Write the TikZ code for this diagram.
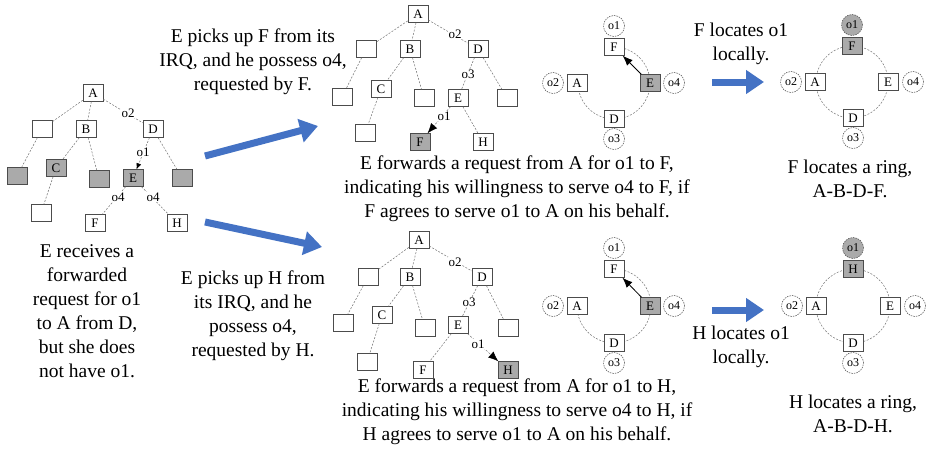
\documentclass[tikz,border=0pt]{standalone}
\usepackage{fontspec}
\setmainfont{Liberation Serif}
\usetikzlibrary{arrows.meta}
\definecolor{arrowblue}{RGB}{68,114,196}
\definecolor{boxgray}{RGB}{170,170,170}
\begin{document}
\begin{tikzpicture}[x=1pt,y=-1pt,
  bx/.style={draw=black!70, line width=0.5pt, fill=white, minimum width=20pt, minimum height=17pt, inner sep=0pt, font=\fontsize{13}{13}\selectfont},
  gbx/.style={bx, fill=boxgray},
  oc/.style={circle, draw=black!70, dash pattern=on 1.5pt off 1pt, line width=0.5pt, fill=white, minimum size=21pt, inner sep=0pt, font=\fontsize{12}{12}\selectfont},
  goc/.style={oc, fill=boxgray},
  tedge/.style={draw=black!55, line width=0.5pt, dash pattern=on 2pt off 1.5pt},
  tlab/.style={font=\fontsize{13}{13}\selectfont, inner sep=0.6pt, fill=white},
  txt/.style={align=center, font=\fontsize{19.5}{24}\selectfont, inner sep=0pt},
  bigarrow/.style={draw=arrowblue, line width=7pt, -{Triangle[length=18pt,width=23pt]}},
  ringarc/.style={draw=black!55, line width=0.5pt, dash pattern=on 2pt off 1.5pt},
  ringarrow/.style={draw=black, line width=0.8pt, -{Latex[length=10pt,width=8pt]}},
  smallhead/.style={-{Latex[length=6pt,width=5pt,color=black]}},
  bighead/.style={-{Latex[length=10pt,width=8pt,color=black]}},
]
\fill[white] (0,0) rectangle (931,455);
\useasboundingbox (0,0) rectangle (931,455);

% ---------------- texts ----------------
\node[txt] (t1) at (253,62) {E picks up F from its\\IRQ, and he possess o4,\\requested by F.};
\node[txt] (t2) at (741,44) {F locates o1\\locally.};
\node[txt] (t3) at (517,188.5) {E forwards a request from A for o1 to F,\\indicating his willingness to serve o4 to F, if\\F agrees to serve o1 to A on his behalf.};
\node[txt] (t4) at (850,179) {F locates a ring,\\A-B-D-F.};
\node[txt] (t5) at (87,311) {E receives a\\forwarded\\request for o1\\to A from D,\\but she does\\not have o1.};
\node[txt] (t6) at (253,316) {E picks up H from\\its IRQ, and he\\possess o4,\\requested by H.};
\node[txt] (t7) at (741,346.5) {H locates o1\\locally.};
\node[txt] (t8) at (517,411.5) {E forwards a request from A for o1 to H,\\indicating his willingness to serve o4 to H, if\\H agrees to serve o1 to A on his behalf.};
\node[txt] (t9) at (853,414) {H locates a ring,\\A-B-D-H.};

% ---------------- blue arrows ----------------
\coordinate (ba1s) at (205,156);
\coordinate (ba1e) at (318,126);
\coordinate (ba2s) at (205,222);
\coordinate (ba2e) at (322,247);
\coordinate (ba3s) at (712,82);
\coordinate (ba3e) at (764,82);
\coordinate (ba4s) at (712,310);
\coordinate (ba4e) at (764,310);
\draw[bigarrow] (ba1s) -- (ba1e);
\draw[bigarrow] (ba2s) -- (ba2e);
\draw[bigarrow] (ba3s) -- (ba3e);
\draw[bigarrow] (ba4s) -- (ba4e);

% ---------------- left tree ----------------
\node[bx]  (lA)  at (93,93)   {A};
\node[bx]  (lL)  at (42,129)  {};
\node[bx]  (lB)  at (86,129)  {B};
\node[bx]  (lD)  at (153,129) {D};
\node[gbx] (lLL) at (17,176)  {};
\node[gbx] (lC)  at (56,168)  {C};
\node[gbx] (lBm) at (99,179)  {};
\node[gbx] (lE)  at (133,178) {E};
\node[gbx] (lDr) at (182,178) {};
\node[bx]  (lCb) at (41,213)  {};
\node[bx]  (lF)  at (95,223)  {F};
\node[bx]  (lH)  at (177,223) {H};
\draw[tedge] (lA) -- (lL);
\draw[tedge] (lA) -- (lB);
\draw[tedge] (lA) -- (lD);
\draw[tedge] (lL) -- (lLL);
\draw[tedge] (lB) -- (lC);
\draw[tedge] (lB) -- (lBm);
\draw[tedge] (lD) -- (lDr);
\draw[tedge] (lC) -- (lCb);
\draw[tedge] (lE) -- (lF);
\draw[tedge] (lE) -- (lH);
\draw[tedge, smallhead] (lD) -- (lE);
\node[tlab] (lo2)  at (128,113) {o2};
\node[tlab] (lo1)  at (143,152) {o1};
\node[tlab] (lo4a) at (118,197) {o4};
\node[tlab] (lo4b) at (153,197) {o4};

% ---------------- top middle tree ----------------
\node[bx]  (tA)  at (418,14)  {A};
\node[bx]  (tL)  at (366,49)  {};
\node[bx]  (tB)  at (410,49)  {B};
\node[bx]  (tD)  at (478,49)  {D};
\node[bx]  (tLL) at (342,97)  {};
\node[bx]  (tC)  at (381,89)  {C};
\node[bx]  (tBm) at (424,98)  {};
\node[bx]  (tE)  at (458,98)  {E};
\node[bx]  (tDr) at (507,98)  {};
\node[bx]  (tCb) at (365,133) {};
\node[gbx] (tF)  at (420,142) {F};
\node[bx]  (tH)  at (483,142) {H};
\draw[tedge] (tA) -- (tL);
\draw[tedge] (tA) -- (tB);
\draw[tedge] (tA) -- (tD);
\draw[tedge] (tL) -- (tLL);
\draw[tedge] (tB) -- (tC);
\draw[tedge] (tB) -- (tBm);
\draw[tedge] (tD) -- (tE);
\draw[tedge] (tD) -- (tDr);
\draw[tedge] (tC) -- (tCb);
\draw[tedge] (tE) -- (tH);
\draw[tedge, bighead] (tE) -- (tF);
\node[tlab] (to2) at (455,34)  {o2};
\node[tlab] (to3) at (468,74)  {o3};
\node[tlab] (to1) at (444,116) {o1};

% ---------------- bottom middle tree ----------------
\node[bx]  (bA)  at (419,240) {A};
\node[bx]  (bL)  at (368,277) {};
\node[bx]  (bB)  at (410,277) {B};
\node[bx]  (bD)  at (482,277) {D};
\node[bx]  (bLL) at (343,323) {};
\node[bx]  (bC)  at (382,315) {C};
\node[bx]  (bBm) at (425,328) {};
\node[bx]  (bE)  at (458,325) {E};
\node[bx]  (bDr) at (508,328) {};
\node[bx]  (bCb) at (367,362) {};
\node[bx]  (bF)  at (423,370) {F};
\node[gbx] (bH)  at (508,370) {H};
\draw[tedge] (bA) -- (bL);
\draw[tedge] (bA) -- (bB);
\draw[tedge] (bA) -- (bD);
\draw[tedge] (bL) -- (bLL);
\draw[tedge] (bB) -- (bC);
\draw[tedge] (bB) -- (bBm);
\draw[tedge] (bD) -- (bE);
\draw[tedge] (bD) -- (bDr);
\draw[tedge] (bC) -- (bCb);
\draw[tedge] (bE) -- (bF);
\draw[tedge, bighead] (bE) -- (bH);
\node[tlab] (bo2) at (455,262) {o2};
\node[tlab] (bo3) at (469,302) {o3};
\node[tlab] (bo1) at (478,344) {o1};

% ---------------- ring 1 (top middle) ----------------
\begin{scope}[shift={(614,83)}]
  \draw[ringarc] (0,-36) arc[start angle=-90, end angle=180, radius=36];
  \node[bx]  (r1F) at (0,-36) {F};
  \node[bx]  (r1A) at (-37,0) {A};
  \node[gbx] (r1E) at (36,0)  {E};
  \node[bx]  (r1D) at (0,36)  {D};
  \node[oc]  (r1o1) at (0,-57) {o1};
  \node[oc]  (r1o2) at (-61,0) {o2};
  \node[oc]  (r1o4) at (60,0)  {o4};
  \node[oc]  (r1o3) at (0,56)  {o3};
  \draw[ringarrow] (r1E) -- (r1F);
\end{scope}

% ---------------- ring 2 (top right) ----------------
\begin{scope}[shift={(852,82)}]
  \draw[ringarc] (0,0) circle[radius=36];
  \node[gbx] (r2F) at (0,-36) {F};
  \node[bx]  (r2A) at (-37,0) {A};
  \node[bx]  (r2E) at (36,0)  {E};
  \node[bx]  (r2D) at (1,36)  {D};
  \node[goc] (r2o1) at (0,-57) {o1};
  \node[oc]  (r2o2) at (-61,0) {o2};
  \node[oc]  (r2o4) at (61,0)  {o4};
  \node[oc]  (r2o3) at (1,56)  {o3};
\end{scope}

% ---------------- ring 3 (bottom right) ----------------
\begin{scope}[shift={(853,306)}]
  \draw[ringarc] (0,0) circle[radius=37];
  \node[gbx] (r3H) at (0,-37) {H};
  \node[bx]  (r3A) at (-37,0) {A};
  \node[bx]  (r3E) at (37,0)  {E};
  \node[bx]  (r3D) at (0,37)  {D};
  \node[goc] (r3o1) at (0,-58) {o1};
  \node[oc]  (r3o2) at (-61,0) {o2};
  \node[oc]  (r3o4) at (62,0)  {o4};
  \node[oc]  (r3o3) at (0,57)  {o3};
\end{scope}

% ---------------- ring 4 (bottom middle) ----------------
\begin{scope}[shift={(614,306)}]
  \draw[ringarc] (0,-37) arc[start angle=-90, end angle=180, radius=37];
  \node[bx]  (r4F) at (0,-37) {F};
  \node[bx]  (r4A) at (-37,0) {A};
  \node[gbx] (r4E) at (36,0)  {E};
  \node[bx]  (r4D) at (0,37)  {D};
  \node[oc]  (r4o1) at (0,-58) {o1};
  \node[oc]  (r4o2) at (-61,0) {o2};
  \node[oc]  (r4o4) at (60,0)  {o4};
  \node[oc]  (r4o3) at (0,57)  {o3};
  \draw[ringarrow] (r4E) -- (r4F);
\end{scope}
\end{tikzpicture}
\end{document}
